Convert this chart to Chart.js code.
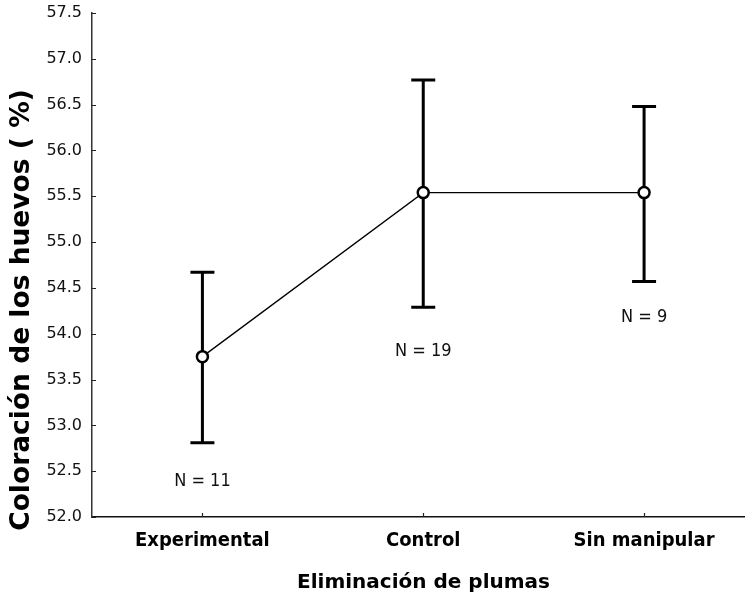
<!DOCTYPE html>
<html>
<head>
<meta charset="utf-8">
<script src="https://cdn.jsdelivr.net/npm/chart.js@4.4.1/dist/chart.umd.min.js"></script>
<style>
  html, body { margin: 0; padding: 0; background: #fff; }
  #wrap { width: 745px; height: 594px; }
</style>
</head>
<body>
<div id="wrap"><canvas id="chart"></canvas></div>
<script>
// data
var categories = ['Experimental', 'Control', 'Sin manipular'];
var means = [53.75, 55.54, 55.54];
var upper = [54.67, 56.77, 56.48];
var lower = [52.81, 54.29, 54.57];
var nLabels = ['N = 11', 'N = 19', 'N = 9'];
var nLabelAt = [52.34, 53.76, 54.13]; // baseline of each N label, in axis units
var yTicks = [52.0, 52.5, 53.0, 53.5, 54.0, 54.5, 55.0, 55.5, 56.0, 56.5, 57.0, 57.5];

var yTitle = 'Coloración de los huevos ( %)';
var xTitle = 'Eliminación de plumas';

var errorBars = {
  id: 'errorBars',
  beforeDatasetsDraw: function(chart) {
    var ctx = chart.ctx;
    var xs = chart.scales.x, ys = chart.scales.y;
    ctx.save();
    ctx.strokeStyle = '#000';
    ctx.lineWidth = 3;
    for (var i = 0; i < means.length; i++) {
      var px = xs.getPixelForValue(i + 1);
      var top = ys.getPixelForValue(upper[i]);
      var bot = ys.getPixelForValue(lower[i]);
      ctx.beginPath();
      ctx.moveTo(px, top); ctx.lineTo(px, bot);
      ctx.moveTo(px - 12, top); ctx.lineTo(px + 12, top);
      ctx.moveTo(px - 12, bot); ctx.lineTo(px + 12, bot);
      ctx.stroke();
    }
    ctx.restore();
  },
  afterDraw: function(chart) {
    var ctx = chart.ctx;
    var xs = chart.scales.x, ys = chart.scales.y;
    var area = chart.chartArea;
    ctx.save();

    // inward tick marks
    ctx.strokeStyle = '#222';
    ctx.lineWidth = 1.2;
    ctx.beginPath();
    yTicks.forEach(function(v) {
      var py = Math.round(ys.getPixelForValue(v)) + 0.5;
      ctx.moveTo(area.left, py); ctx.lineTo(area.left + 4, py);
    });
    categories.forEach(function(c, i) {
      var px = Math.round(xs.getPixelForValue(i + 1)) + 0.5;
      ctx.moveTo(px, area.bottom); ctx.lineTo(px, area.bottom - 4);
    });
    ctx.stroke();

    // N labels
    ctx.fillStyle = '#111';
    ctx.font = '18px "DejaVu Sans Condensed", "DejaVu Sans", sans-serif';
    ctx.textAlign = 'center';
    ctx.textBaseline = 'alphabetic';
    nLabels.forEach(function(t, i) {
      ctx.fillText(t, xs.getPixelForValue(i + 1), ys.getPixelForValue(nLabelAt[i]));
    });

    // axis titles
    ctx.fillStyle = '#000';
    ctx.font = 'bold 20px "DejaVu Sans", sans-serif';
    ctx.fillText(xTitle, (area.left + area.right) / 2 + 5, 588);

    ctx.translate(29, 310);
    ctx.rotate(-Math.PI / 2);
    ctx.font = 'bold 26.5px "DejaVu Sans", sans-serif';
    ctx.fillText(yTitle, 0, 0);
    ctx.restore();
  }
};

var points = means.map(function(m, i) { return { x: i + 1, y: m }; });

new Chart(document.getElementById('chart'), {
  type: 'line',
  data: {
    datasets: [{
      data: points,
      borderColor: '#000',
      borderWidth: 1.3,
      pointRadius: 5.5,
      pointBorderWidth: 2.5,
      pointBackgroundColor: '#fff',
      pointBorderColor: '#000',
      tension: 0,
      clip: false
    }]
  },
  options: {
    responsive: true,
    maintainAspectRatio: false,
    animation: false,
    layout: { autoPadding: false, padding: { top: 13, right: 0, left: 0, bottom: 0 } },
    plugins: {
      legend: { display: false },
      tooltip: { enabled: false }
    },
    scales: {
      x: {
        type: 'linear',
        min: 0.5,
        max: 3.457,
        afterFit: function(scale) {
          scale.height = 77;
          scale.paddingLeft = 0;
          scale.paddingRight = 0;
        },
        afterBuildTicks: function(scale) {
          scale.ticks = categories.map(function(c, i) { return { value: i + 1 }; });
        },
        ticks: {
          autoSkip: false,
          maxRotation: 0,
          padding: 12,
          color: '#000',
          font: { family: '"DejaVu Sans Condensed", "DejaVu Sans", sans-serif', size: 20, weight: 'bold' },
          callback: function(v) { return categories[v - 1]; }
        },
        grid: { display: true, drawOnChartArea: false, drawTicks: false },
        border: { display: true, color: '#111', width: 1.5 }
      },
      y: {
        min: 52,
        max: 57.5,
        afterFit: function(scale) {
          scale.width = 92;
          scale.paddingTop = 0;
          scale.paddingBottom = 0;
        },
        afterBuildTicks: function(scale) {
          scale.ticks = yTicks.map(function(v) { return { value: v }; });
        },
        ticks: {
          padding: 10,
          color: '#111',
          font: { family: '"DejaVu Sans", sans-serif', size: 16 },
          callback: function(v) { return Number(v).toFixed(1); }
        },
        grid: { display: true, drawOnChartArea: false, drawTicks: false },
        border: { display: true, color: '#333', width: 1.5 }
      }
    }
  },
  plugins: [errorBars]
});
</script>
</body>
</html>
